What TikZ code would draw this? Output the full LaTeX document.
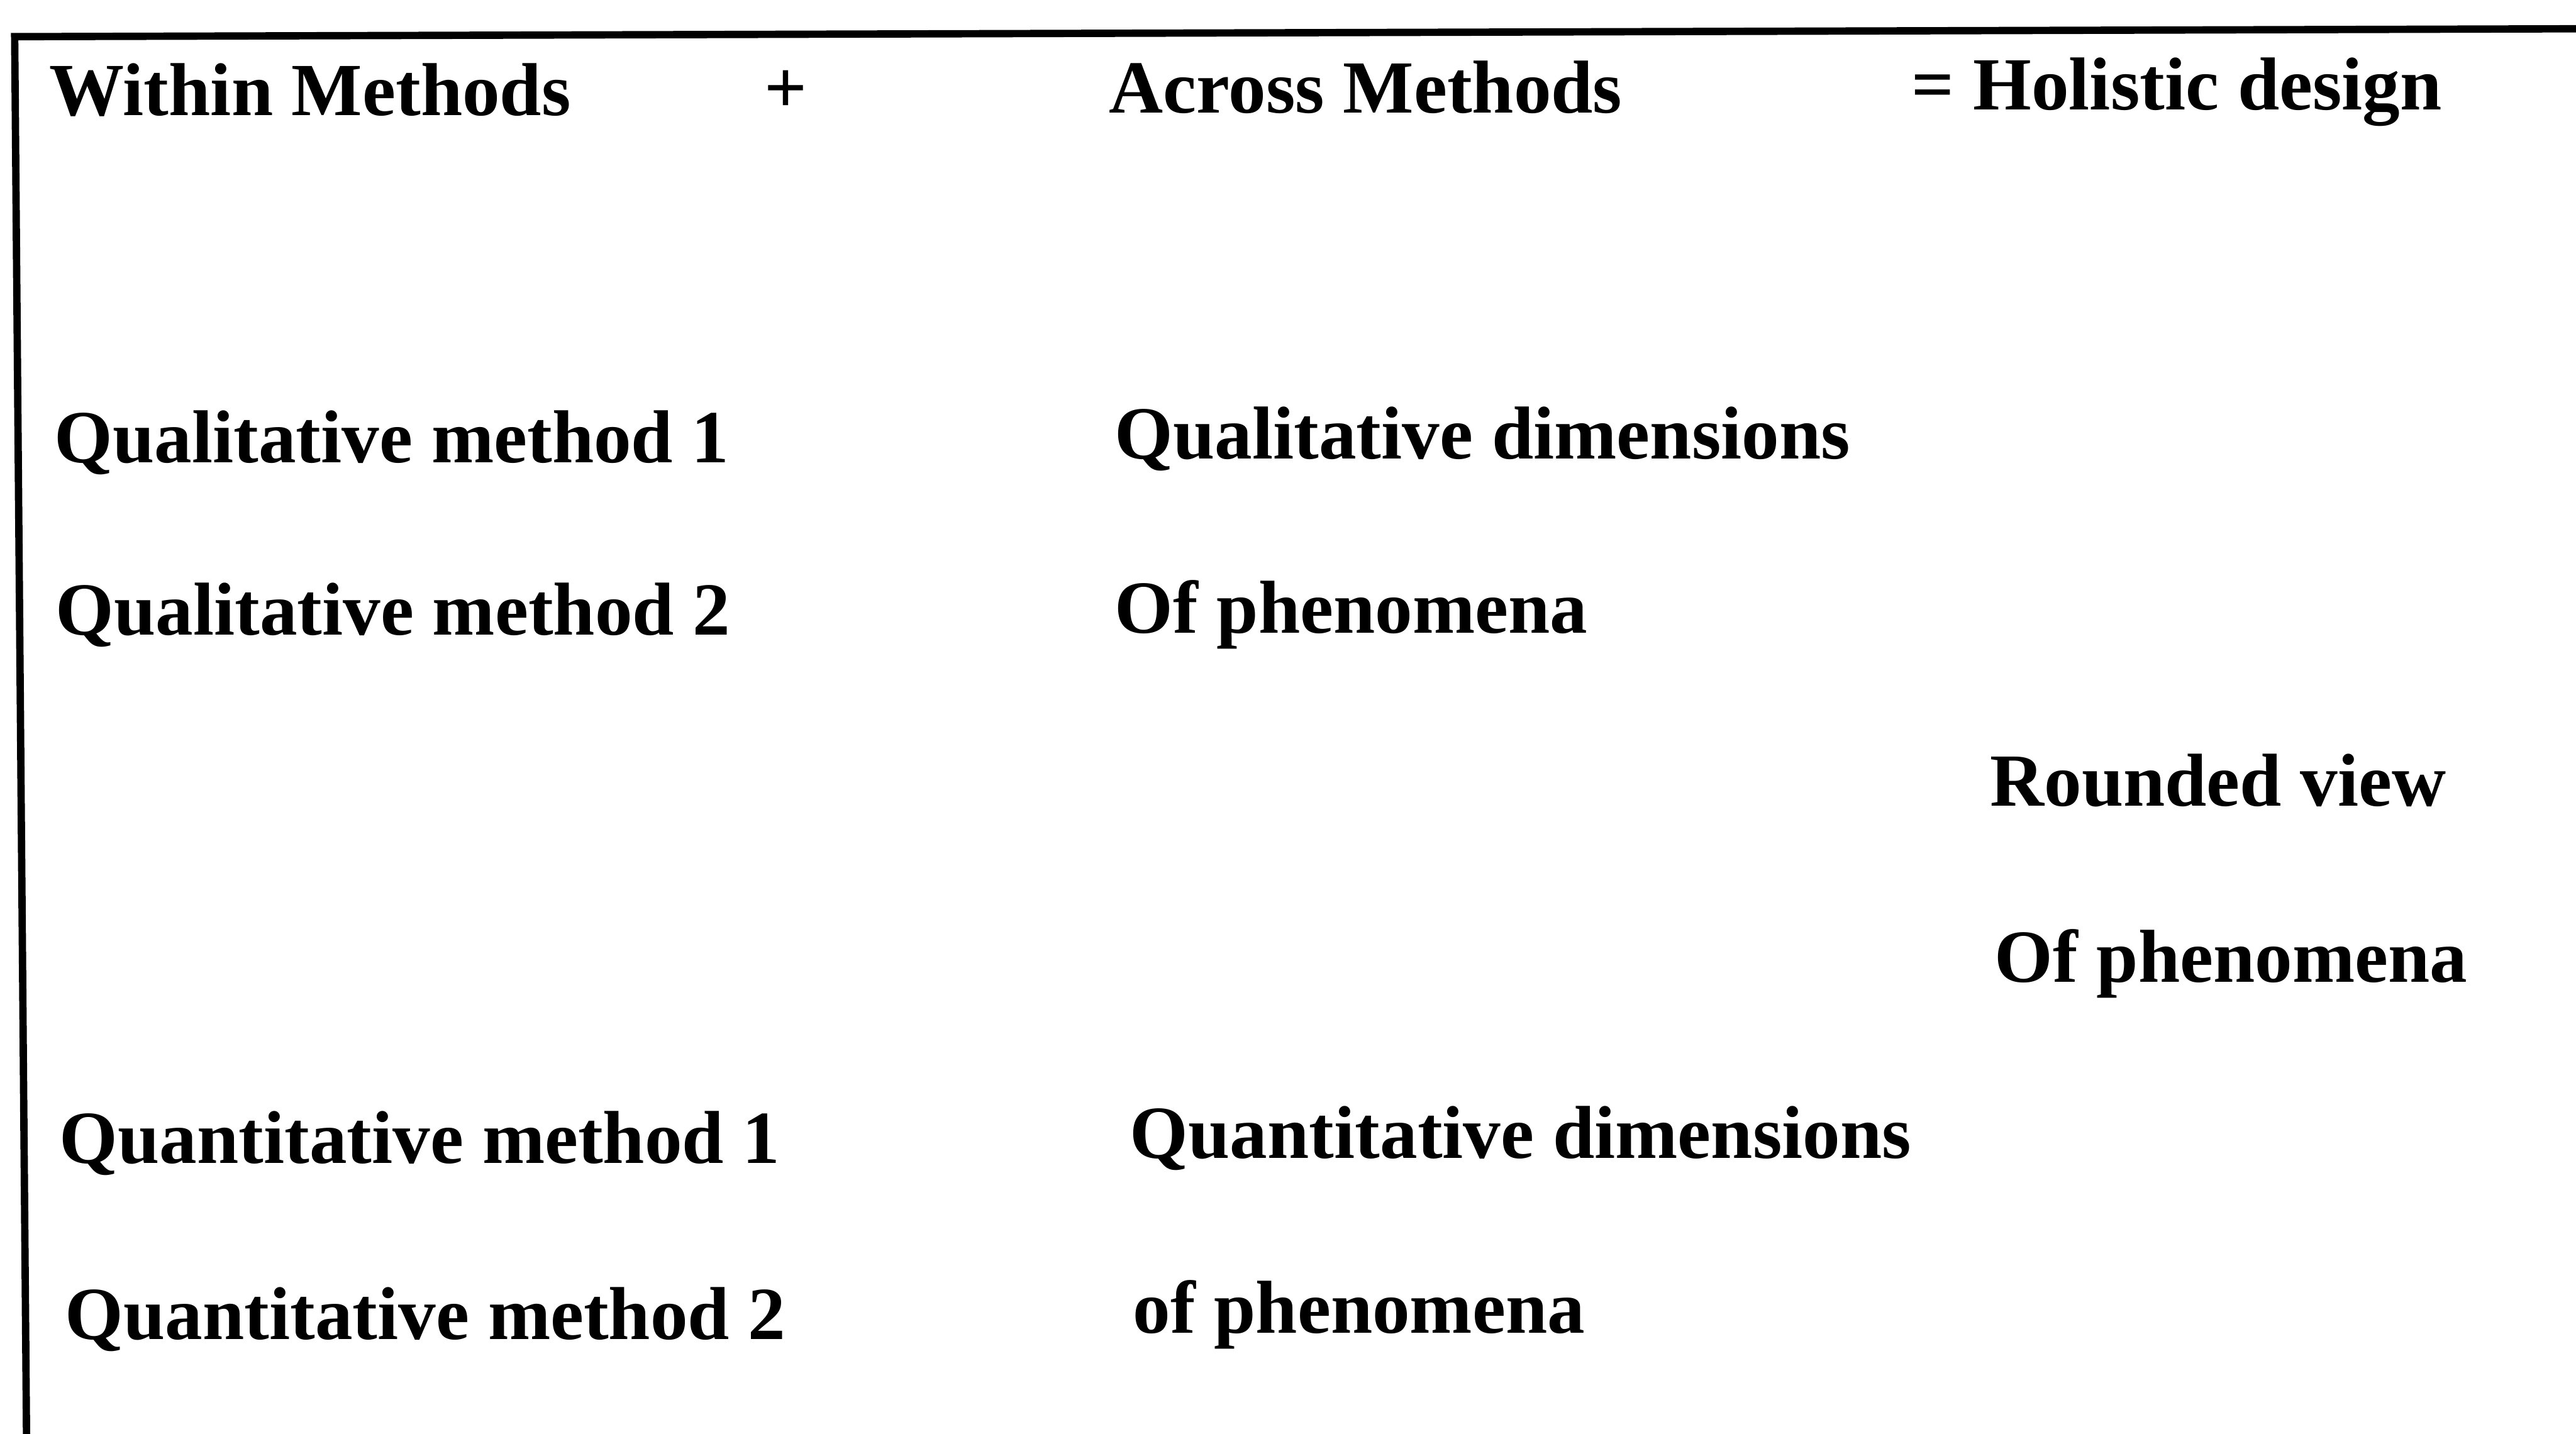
\documentclass[tikz,border=0pt]{standalone}
\usepackage{fontspec}
\setmainfont{Liberation Serif}
\usetikzlibrary{positioning}
\tikzset{
  lbl/.style={anchor=base west,inner sep=0pt,font=\bfseries\fontsize{37.8}{45}\selectfont},
  frame/.style={line width=1.3mm,black}
}

\begin{document}
\begin{tikzpicture}
\useasboundingbox (0,0) rectangle (45.65,-25.41);
% open frame, left and top edge only
\coordinate (bl) at (0.47,-25.41);
\coordinate (tl) at (0.26,-0.65);
\coordinate (tr) at (45.65,-0.51);
\draw[frame] (bl) -- (tl) -- (tr);
% header
\node[lbl] (within) at (0.87,-2.05) {Within Methods};
\node[lbl,anchor=base] (plus) at (13.93,-2.0) {+};
\node[lbl] (across) at (19.65,-2.0) {Across Methods};
\node[lbl] (holistic) at (33.87,-1.95) {= Holistic design};
% qualitative rows
\node[lbl] (qual1) at (0.96,-8.20) {Qualitative method 1};
\node[lbl] (qual2) at (0.98,-11.25) {Qualitative method 2};
\node[lbl] (qualdim) at (19.75,-8.13) {Qualitative dimensions};
\node[lbl] (qualof) at (19.75,-11.22) {Of phenomena};
% holistic result
\node[lbl] (rounded) at (35.26,-14.28) {Rounded view};
\node[lbl] (roundof) at (35.34,-17.40) {Of phenomena};
% quantitative rows
\node[lbl] (quant1) at (1.05,-20.61) {Quantitative method 1};
\node[lbl] (quant2) at (1.15,-23.73) {Quantitative method 2};
\node[lbl] (quantdim) at (20.02,-20.52) {Quantitative dimensions};
\node[lbl] (quantof) at (20.07,-23.62) {of phenomena};
\end{tikzpicture}
\end{document}
